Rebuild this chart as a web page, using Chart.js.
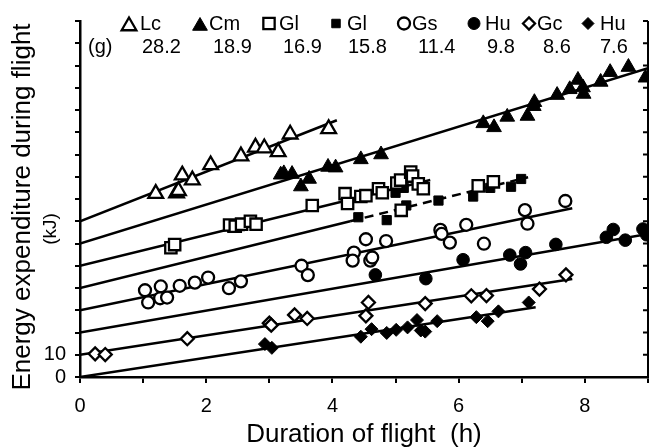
<!DOCTYPE html>
<html><head><meta charset="utf-8">
<script src="https://cdn.jsdelivr.net/npm/chart.js@4.4.1/dist/chart.umd.min.js"></script>
<style>html,body{margin:0;padding:0;background:#fff}canvas{display:block}</style>
</head><body>
<canvas id="c" width="659" height="448" style="width:659px;height:448px"></canvas>
<script>
// ---- text ----
const speciesCodes = ['Lc','Cm','Gl','Gl','Gs','Hu','Gc','Hu'];
const bodyMass = ['28.2','18.9','16.9','15.8','11.4','9.8','8.6','7.6'];
const massLabel = '(g)';
const xTitle = 'Duration of flight  (h)';
const yTitle = 'Energy expenditure during flight';
const yUnit = '(kJ)';
const yLabelledTicks = [0, 10];

// ---- data (plotted values; each species offset along y) ----
const lcX = [1.20,1.53,1.56,1.62,1.78,2.07,2.55,2.78,2.92,3.14,3.33,3.94];
const lcY = [82.4,82.7,83.7,90.7,88.5,95.3,99.3,103.2,102.9,101.2,109.1,111.5];

const cmX = [3.18,3.23,3.36,3.50,3.63,3.93,4.05,4.45,4.77,6.39,6.56,6.77,7.09,7.19,7.20,7.56,7.76,7.89,7.97,7.98,8.25,8.40,8.69,8.96];
const cmY = [90.9,91.5,91.2,85.6,89.0,94.4,94.1,97.8,100.0,114.0,112.2,116.9,117.3,121.7,123.5,126.7,129.3,133.5,130.1,127.2,132.6,137.0,139.3,134.5];

const gl169X = [1.44,1.50,2.37,2.46,2.56,2.70,2.79,3.68,4.20,4.24,4.45,4.53,4.73,4.79,5.02,5.08,5.24,5.27,5.36,5.44,5.09,6.31,6.55];
const gl169Y = [58.1,59.5,68.3,67.8,68.7,70.0,68.7,77.1,82.4,78.0,81.1,81.5,84.6,82.8,87.2,88.5,92.1,90.3,86.8,84.6,74.9,85.9,87.7];

const gl158X = [2.41,2.54,4.41,4.86,5.00,5.13,5.17,5.68,6.23,6.50,6.83,6.99];
const gl158Y = [67.0,67.8,71.8,70.5,82.8,85.0,77.1,79.3,81.1,85.0,85.5,89.0];

const gsX = [1.03,1.08,1.28,1.27,1.38,1.58,1.82,2.03,2.36,2.55,3.51,3.61,4.34,4.32,4.53,4.60,4.63,4.85,5.71,5.73,5.86,6.12,6.40,7.05,7.09,7.69];
const gsY = [39.0,33.5,40.7,35.4,35.7,41.0,42.4,44.7,39.9,43.0,50.0,45.8,55.9,52.3,61.9,52.3,53.7,61.1,66.1,64.3,60.4,68.4,59.9,75.0,68.9,79.1];

const hu98X = [4.68,5.48,6.07,6.81,6.98,7.06,7.54,8.34,8.45,8.64,8.92,8.98];
const hu98Y = [45.9,44.2,52.7,54.8,50.8,55.9,59.6,62.8,66.3,61.5,66.5,63.9];

const gcX = [0.24,0.40,1.70,3.00,3.03,3.40,3.60,4.57,4.53,5.47,6.20,6.44,7.28,7.70];
const gcY = [10.4,10.1,17.2,24.2,23.3,27.9,26.3,33.5,27.5,33.0,36.5,36.6,39.5,45.9];

const hu76X = [2.93,3.04,4.45,4.62,4.86,5.01,5.19,5.34,5.40,5.47,5.66,6.28,6.46,6.63,7.11];
const hu76Y = [14.8,13.1,18.1,21.5,19.8,21.2,22.3,25.6,20.9,20.4,25.1,26.9,25.1,29.5,33.5];

// regression lines (start / end), same order as speciesCodes
const fitX0 = [0,0,0,0,0,0,0,0];
const fitY0 = [70,60,50,40,30,20,10,0];
const fitX1 = [4.07,9.0,5.55,4.28,7.8,9.0,7.8,7.22];
const fitY1 = [115.4,138.8,88.5,70.0,75.8,64.3,44.0,31.3];
// dashed extension of the Gl 15.8 line
const dashX = [4.28,7.1];
const dashY = [70.0,89.8];

// ---- styling ----
const FONT = "'Liberation Sans', Arial, Helvetica, sans-serif";
const markers = [
  {style:'triangle', filled:false, r:8.5},
  {style:'triangle', filled:true,  r:8.5},
  {style:'rect',     filled:false, r:8},
  {style:'rect',     filled:true,  r:6.5},
  {style:'circle',   filled:false, r:6},
  {style:'circle',   filled:true,  r:6.3},
  {style:'rectRot',  filled:false, r:6.5},
  {style:'rectRot',  filled:true,  r:6.5}
];
const seriesX = [lcX,cmX,gl169X,gl158X,gsX,hu98X,gcX,hu76X];
const seriesY = [lcY,cmY,gl169Y,gl158Y,gsY,hu98Y,gcY,hu76Y];

const datasets = [];
seriesX.forEach((xs, i) => {
  const m = markers[i];
  datasets.push({
    type: 'scatter',
    label: speciesCodes[i] + ' ' + bodyMass[i],
    data: xs.map((x, j) => ({x: x, y: seriesY[i][j]})),
    pointStyle: m.style,
    pointRadius: m.r,
    pointBackgroundColor: m.filled ? '#000' : '#fff',
    pointBorderColor: '#000',
    pointBorderWidth: m.filled ? 1 : 2.3,
    order: 1
  });
  datasets.push({
    type: 'line',
    label: 'fit ' + speciesCodes[i],
    data: [{x: fitX0[i], y: fitY0[i]}, {x: fitX1[i], y: fitY1[i]}],
    borderColor: '#000', borderWidth: 2.5, pointRadius: 0, fill: false,
    order: 5
  });
});
datasets.push({
  type: 'line', label: 'fit Gl 15.8 (ext.)',
  data: dashX.map((x, j) => ({x: x, y: dashY[j]})),
  borderColor: '#000', borderWidth: 2.5, borderDash: [9, 6], pointRadius: 0, fill: false,
  order: 5
});

const decor = {
  id: 'decor',
  afterDraw(chart) {
    const ctx = chart.ctx, a = chart.chartArea, ys = chart.scales.y;
    ctx.save();
    // right axis with inward ticks
    ctx.strokeStyle = '#000'; ctx.lineWidth = 2;
    ctx.beginPath();
    ctx.moveTo(a.right, a.top); ctx.lineTo(a.right, a.bottom + 1);
    ys.ticks.forEach(t => {
      const py = ys.getPixelForValue(t.value);
      ctx.moveTo(a.right, py); ctx.lineTo(a.right - 5, py);
    });
    ctx.stroke();
    // y title
    ctx.fillStyle = '#000';
    ctx.textAlign = 'center'; ctx.textBaseline = 'middle';
    ctx.save();
    ctx.translate(23, 207); ctx.rotate(-Math.PI / 2);
    ctx.font = '26px ' + FONT;
    ctx.fillText(yTitle, 0, 0);
    ctx.restore();
    ctx.save();
    ctx.translate(51, 229); ctx.rotate(-Math.PI / 2);
    ctx.font = '19px ' + FONT;
    ctx.fillText(yUnit, 0, 0);
    ctx.restore();
    // header key
    const symX = [129,200,269,336,404,474,529,588];
    const codeX = [140,209,279,347,412,485,537,600];
    const massX = [142,213,283,348,418,487,543,600];
    ctx.textAlign = 'left'; ctx.textBaseline = 'alphabetic';
    ctx.font = '20px ' + FONT;
    speciesCodes.forEach((c, i) => {
      const m = markers[i];
      ctx.fillStyle = m.filled ? '#000' : '#fff';
      ctx.strokeStyle = '#000';
      ctx.lineWidth = m.filled ? 1 : 2.3;
      const cy = m.style === 'triangle' ? 26 : 23.5;
      const rad = m.style === 'triangle' ? 8.5 : (m.style === 'rect' ? (m.filled ? 6 : 8) : 6);
      Chart.helpers.drawPoint(ctx, {pointStyle: m.style, radius: rad, rotation: 0, borderWidth: m.filled ? 1 : 2.3}, symX[i], cy);
      ctx.fillStyle = '#000';
      ctx.fillText(c, codeX[i], 30);
      ctx.fillText(bodyMass[i], massX[i], 53);
    });
    ctx.fillText(massLabel, 88, 53);
    ctx.restore();
  }
};

new Chart(document.getElementById('c'), {
  type: 'scatter',
  data: {datasets: datasets},
  plugins: [decor],
  options: {
    responsive: false, animation: false, events: [],
    layout: {padding: {left: 0, right: 9, top: 14, bottom: 0}},
    plugins: {legend: {display: false}, tooltip: {enabled: false}, title: {display: false}},
    scales: {
      x: {
        type: 'linear', min: 0, max: 9,
        border: {display: true, color: '#000', width: 2.5},
        grid: {display: true, drawOnChartArea: false, drawTicks: true, tickLength: 6, color: '#000', lineWidth: 2},
        ticks: {stepSize: 1, autoSkip: false, maxRotation: 0, padding: 11, color: '#000',
          font: {family: FONT, size: 20},
          callback: v => (v % 2 === 0 ? String(v) : '')},
        title: {display: true, text: xTitle, color: '#000', font: {family: FONT, size: 26, lineHeight: 1}, padding: {top: 4, bottom: 0}},
        afterFit: s => { s.height = 71; }
      },
      y: {
        type: 'linear', min: 0, max: 160,
        border: {display: true, color: '#000', width: 2.5},
        grid: {display: true, drawOnChartArea: false, drawTicks: true, tickLength: 5, color: '#000', lineWidth: 2},
        ticks: {stepSize: 10, autoSkip: false, padding: 9, color: '#000',
          font: {family: FONT, size: 20},
          callback: v => (yLabelledTicks.includes(v) ? String(v) : '')},
        afterFit: s => { s.width = 80; }
      }
    }
  }
});
</script>
</body></html>
